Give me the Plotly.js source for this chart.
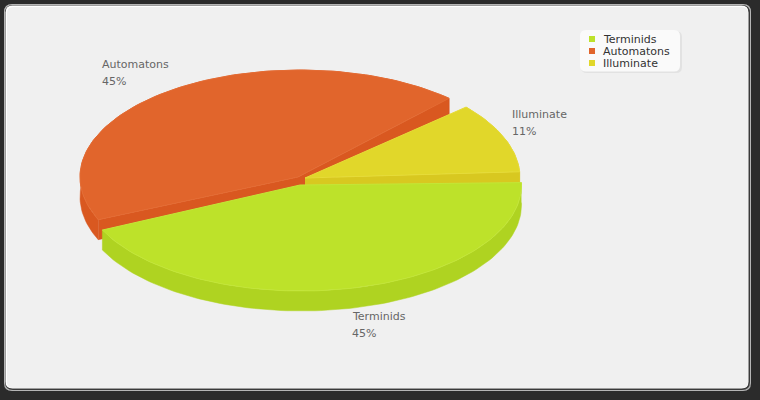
<!DOCTYPE html>
<html>
<head>
<meta charset="utf-8">
<script src="https://cdn.plot.ly/plotly-3.0.1.min.js"></script>
<style>html,body{margin:0;padding:0;background:#2b2b2b}#chart{width:760px;height:400px}</style>
</head>
<body>
<div id="chart"></div>
<script>
// Data
var names = ['Terminids', 'Automatons', 'Illuminate'];
var percents = [45, 45, 11];

// Style
var topColors = ['#BDE22A', '#E1652C', '#E1D72A'];
var sideColors = ['#AFD321', '#D95820', '#D8C820'];
var edgeColors = ['#C3E638', '#E46C34', '#E6DC38'];
var textFont = 'DejaVu Sans';

// View: each exploded slice has its own centre on the tilted disc
var views = [
  {cx: 301.5, cy: 185, a: 220, b: 106, start: -1.3, apex: [300, 185]},
  {cx: 300, cy: 177, a: 220, b: 107, start: 156.5, apex: [298, 177]},
  {cx: 305, cy: 178, a: 215, b: 107, start: 318.5, apex: [305, 178]}
];
var depth = 20;
var degPerPercent = 3.47;
function sweepOf(v) { return degPerPercent * v; }

function rim(view, from, to, dy) {
  var xs = [], ys = [], n = Math.max(2, Math.ceil(Math.abs(to - from) / 1.5));
  for (var i = 0; i <= n; i++) {
    var t = (from + (to - from) * i / n) * Math.PI / 180;
    xs.push(view.cx + view.a * Math.cos(t));
    ys.push(view.cy + view.b * Math.sin(t) + dy);
  }
  return {x: xs, y: ys};
}
function poly(x, y, fill, line) {
  return {
    type: 'scatter', mode: 'lines', x: x, y: y, fill: 'toself', fillcolor: fill,
    line: {color: line || fill, width: line ? 1 : 0.5}, hoverinfo: 'skip', showlegend: false
  };
}
function endOf(i) { return views[i].start + sweepOf(percents[i]); }
function sliceTraces(i, faces) {
  var v = views[i], from = v.start, to = endOf(i);
  var out = [];
  var top = rim(v, from, to, 0), low = rim(v, from, to, depth);
  // outer wall
  out.push(poly(top.x.concat(low.x.slice().reverse()), top.y.concat(low.y.slice().reverse()), sideColors[i]));
  // radial faces
  faces.forEach(function (deg) {
    var p = rim(v, deg, deg, 0);
    out.push(poly([v.apex[0], p.x[0], p.x[0], v.apex[0]],
                  [v.apex[1], p.y[0], p.y[0] + depth, v.apex[1] + depth], sideColors[i]));
  });
  // top surface
  out.push(poly([v.apex[0]].concat(top.x, [v.apex[0]]), [v.apex[1]].concat(top.y, [v.apex[1]]), topColors[i], edgeColors[i]));
  return out;
}

var traces = []
  .concat(sliceTraces(1, [views[1].start, endOf(1)]))
  .concat(sliceTraces(2, [endOf(2)]))
  .concat(sliceTraces(0, []));

// Legend drawn from the series
var legendX = 592, legendY = [39, 51, 63];
traces.push({
  type: 'scatter', mode: 'markers', x: names.map(function () { return legendX; }), y: legendY,
  marker: {symbol: 'square', size: 6, color: topColors}, hoverinfo: 'skip', showlegend: false
});

var annotations = [];
names.forEach(function (n, i) {
  annotations.push({x: 601.5, y: legendY[i], xref: 'x', yref: 'y', text: n, showarrow: false, xanchor: 'left', yanchor: 'middle', borderpad: 0,
    font: {family: textFont, size: 11, color: '#333'}});
});
var labelPos = [[350.5, 316, 333], [101, 64, 81], [510.5, 114, 131]];
names.forEach(function (n, i) {
  var p = labelPos[i];
  annotations.push({x: p[0], y: p[1], xref: 'x', yref: 'y', text: n, showarrow: false, xanchor: 'left', yanchor: 'middle', borderpad: 0,
    font: {family: textFont, size: 11, color: '#666'}});
  annotations.push({x: p[0], y: p[2], xref: 'x', yref: 'y', text: percents[i] + '%', showarrow: false, xanchor: 'left', yanchor: 'middle', borderpad: 0,
    font: {family: textFont, size: 11, color: '#666'}});
});

function rr(x0, y0, x1, y1, r) {
  return 'M' + (x0 + r) + ',' + y0 + 'L' + (x1 - r) + ',' + y0 + 'Q' + x1 + ',' + y0 + ' ' + x1 + ',' + (y0 + r) +
    'L' + x1 + ',' + (y1 - r) + 'Q' + x1 + ',' + y1 + ' ' + (x1 - r) + ',' + y1 +
    'L' + (x0 + r) + ',' + y1 + 'Q' + x0 + ',' + y1 + ' ' + x0 + ',' + (y1 - r) +
    'L' + x0 + ',' + (y0 + r) + 'Q' + x0 + ',' + y0 + ' ' + (x0 + r) + ',' + y0 + 'Z';
}
function panel(x0, y0, x1, y1, r, color) {
  return {type: 'path', xref: 'x', yref: 'y', layer: 'below', path: rr(x0, y0, x1, y1, r), fillcolor: color, line: {width: 0}};
}
var shapes = [
  panel(4, 4, 751, 391, 8, '#b5b5b5'),
  panel(5, 5, 750, 390, 8, '#3a3a3a'),
  panel(5.5, 5.5, 748.5, 388.5, 7, '#ffffff'),
  panel(7, 7, 748, 388, 6, '#f0f0f0'),
  panel(581, 31, 682, 73, 6, '#e2e2e2'),
  panel(580, 30, 680, 71.5, 6, '#fafafa')
];

var layout = {
  width: 760, height: 400, margin: {l: 0, r: 0, t: 0, b: 0},
  paper_bgcolor: '#2b2b2b', plot_bgcolor: 'rgba(0,0,0,0)', showlegend: false,
  xaxis: {range: [0, 760], visible: false, fixedrange: true},
  yaxis: {range: [400, 0], visible: false, fixedrange: true},
  shapes: shapes, annotations: annotations, hovermode: false
};
Plotly.newPlot('chart', traces, layout, {displayModeBar: false, staticPlot: true});
</script>
</body>
</html>
